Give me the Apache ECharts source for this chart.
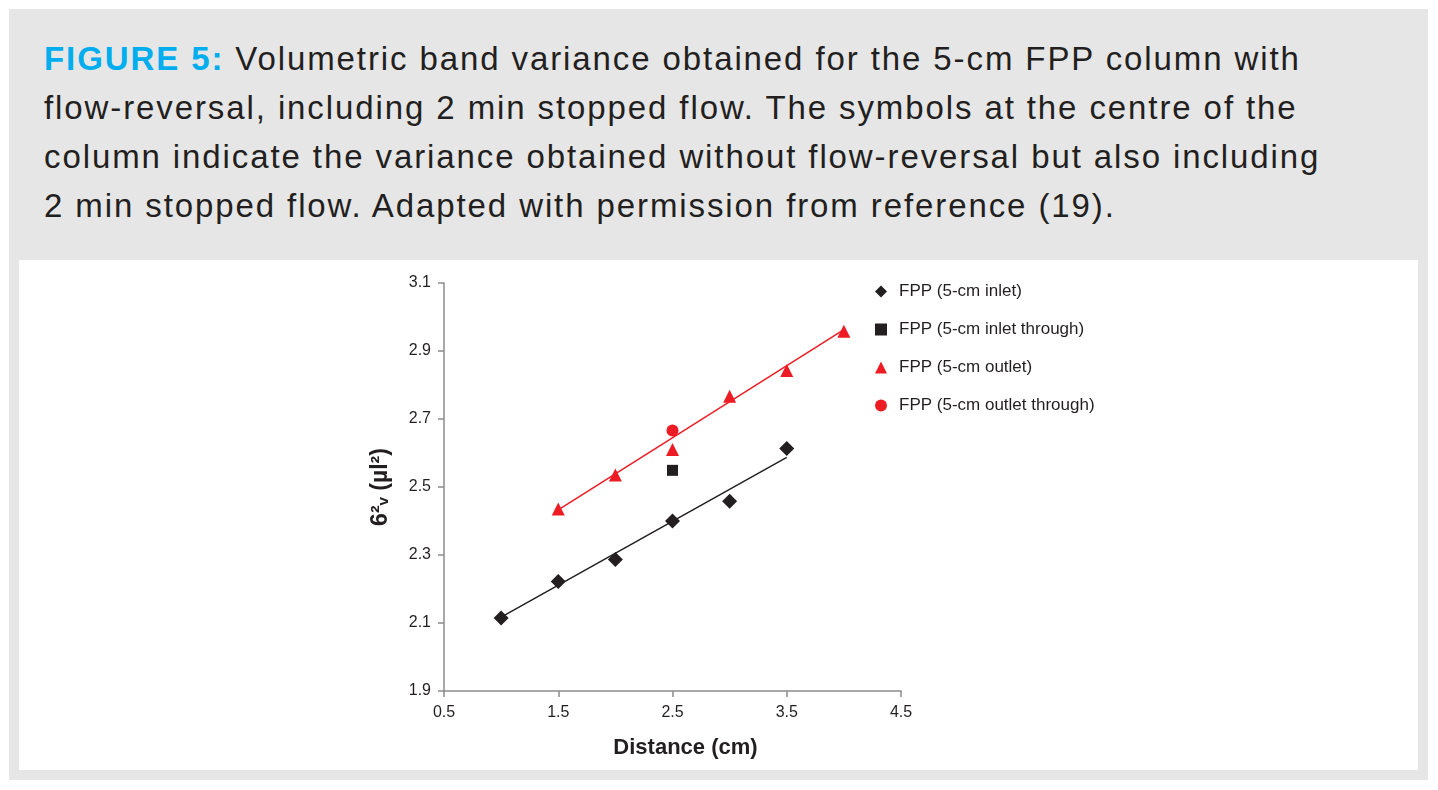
<!DOCTYPE html>
<html>
<head>
<meta charset="utf-8">
<script src="https://cdn.jsdelivr.net/npm/echarts@6/dist/echarts.min.js"></script>
<style>
body { margin: 0; background: #ffffff; width: 1438px; height: 790px; position: relative; overflow: hidden; }
#panel { position: absolute; left: 9px; top: 9px; width: 1419px; height: 771px; background: #e6e6e6; }
#caption { position: absolute; left: 44px; top: 34px; font-family: "Liberation Sans", Arial, sans-serif; font-size: 33px; line-height: 49px; letter-spacing: 1.9px; color: #231f20; white-space: nowrap; }
#caption b { color: #00aeef; }
#chart { position: absolute; left: 19px; top: 260px; width: 1399px; height: 510px; background: #ffffff; }
</style>
</head>
<body>
<div id="panel"></div>
<div id="caption"><b>FIGURE 5:</b> Volumetric band variance obtained for the 5-cm FPP column with<br>flow-reversal, including 2 min stopped flow. The symbols at the centre of the<br>column indicate the variance obtained without flow-reversal but also including<br>2 min stopped flow. Adapted with permission from reference (19).</div>
<div id="chart"></div>
<script>
var inletX = [1.0, 1.5, 2.0, 2.5, 3.0, 3.5];
var inletY = [2.115, 2.222, 2.287, 2.400, 2.458, 2.613];
var inletThroughX = [2.5];
var inletThroughY = [2.549];
var outletX = [1.5, 2.0, 2.5, 3.0, 3.5, 4.0];
var outletY = [2.435, 2.535, 2.610, 2.767, 2.843, 2.958];
var outletThroughX = [2.5];
var outletThroughY = [2.666];
// trend line end points
var inletFitX = [1.0, 3.5];
var inletFitY = [2.117, 2.587];
var outletFitX = [1.5, 4.0];
var outletFitY = [2.433, 2.963];

function pairs(xs, ys) {
    return xs.map(function (x, i) { return [x, ys[i]]; });
}

var black = '#231f20';
var red = '#ed1c24';

var chartDom = document.getElementById('chart');
var myChart = echarts.init(chartDom);
var option;

option = {
    animation: false,
    textStyle: { fontFamily: 'Liberation Sans, Arial, sans-serif' },
    grid: {
        left: 425,
        top: 23,
        width: 457,
        height: 408
    },
    legend: {
        orient: 'vertical',
        left: 851,
        top: 18,
        itemGap: 21,
        itemWidth: 12,
        itemHeight: 12,
        textStyle: { fontSize: 17, color: black, padding: [0, 0, 0, 7] },
        data: [
            { name: 'FPP (5-cm inlet)', icon: 'diamond' },
            { name: 'FPP (5-cm inlet through)', icon: 'rect' },
            { name: 'FPP (5-cm outlet)', icon: 'triangle' },
            { name: 'FPP (5-cm outlet through)', icon: 'circle' }
        ]
    },
    xAxis: {
        type: 'value',
        min: 0.5,
        max: 4.5,
        interval: 1,
        name: 'Distance (cm)',
        nameLocation: 'middle',
        nameGap: 46,
        nameTextStyle: { fontSize: 22, fontWeight: 'bold', color: black, padding: [0, 0, 0, 26] },
        axisLine: { show: true, lineStyle: { color: '#8c8c8c', width: 1.5 } },
        axisTick: { show: true, length: 6, lineStyle: { color: '#8c8c8c', width: 1.5 } },
        axisLabel: { fontSize: 16, color: black, margin: 14, formatter: function (v) { return v.toFixed(1); } },
        splitLine: { show: false }
    },
    yAxis: {
        type: 'value',
        min: 1.9,
        max: 3.1,
        interval: 0.2,
        name: '6\u00b2\u1d65 (\u00b5l\u00b2)',
        nameLocation: 'middle',
        nameRotate: 90,
        nameGap: 52,
        nameTextStyle: { fontSize: 23, fontWeight: 'bold', color: black },
        axisLine: { show: true, lineStyle: { color: '#8c8c8c', width: 1.5 } },
        axisTick: { show: true, length: 6, lineStyle: { color: '#8c8c8c', width: 1.5 } },
        axisLabel: { fontSize: 16, color: black, margin: 13, formatter: function (v) { return v.toFixed(1); } },
        splitLine: { show: false }
    },
    series: [
        {
            name: 'FPP (5-cm inlet)',
            type: 'scatter',
            symbol: 'diamond',
            symbolSize: 15,
            itemStyle: { color: black, opacity: 1 },
            data: pairs(inletX, inletY)
        },
        {
            name: 'FPP (5-cm inlet through)',
            type: 'scatter',
            symbol: 'rect',
            symbolSize: 11,
            itemStyle: { color: black, opacity: 1 },
            data: pairs(inletThroughX, inletThroughY)
        },
        {
            name: 'FPP (5-cm outlet)',
            type: 'scatter',
            symbol: 'triangle',
            symbolSize: 13,
            itemStyle: { color: red, opacity: 1 },
            data: pairs(outletX, outletY)
        },
        {
            name: 'FPP (5-cm outlet through)',
            type: 'scatter',
            symbol: 'circle',
            symbolSize: 12,
            itemStyle: { color: red, opacity: 1 },
            data: pairs(outletThroughX, outletThroughY)
        },
        {
            name: 'inlet fit',
            type: 'line',
            showSymbol: false,
            silent: true,
            lineStyle: { color: black, width: 1.5 },
            data: pairs(inletFitX, inletFitY),
            z: 1
        },
        {
            name: 'outlet fit',
            type: 'line',
            showSymbol: false,
            silent: true,
            lineStyle: { color: red, width: 1.5 },
            data: pairs(outletFitX, outletFitY),
            z: 1
        }
    ]
};
option && myChart.setOption(option);
</script>
</body>
</html>
